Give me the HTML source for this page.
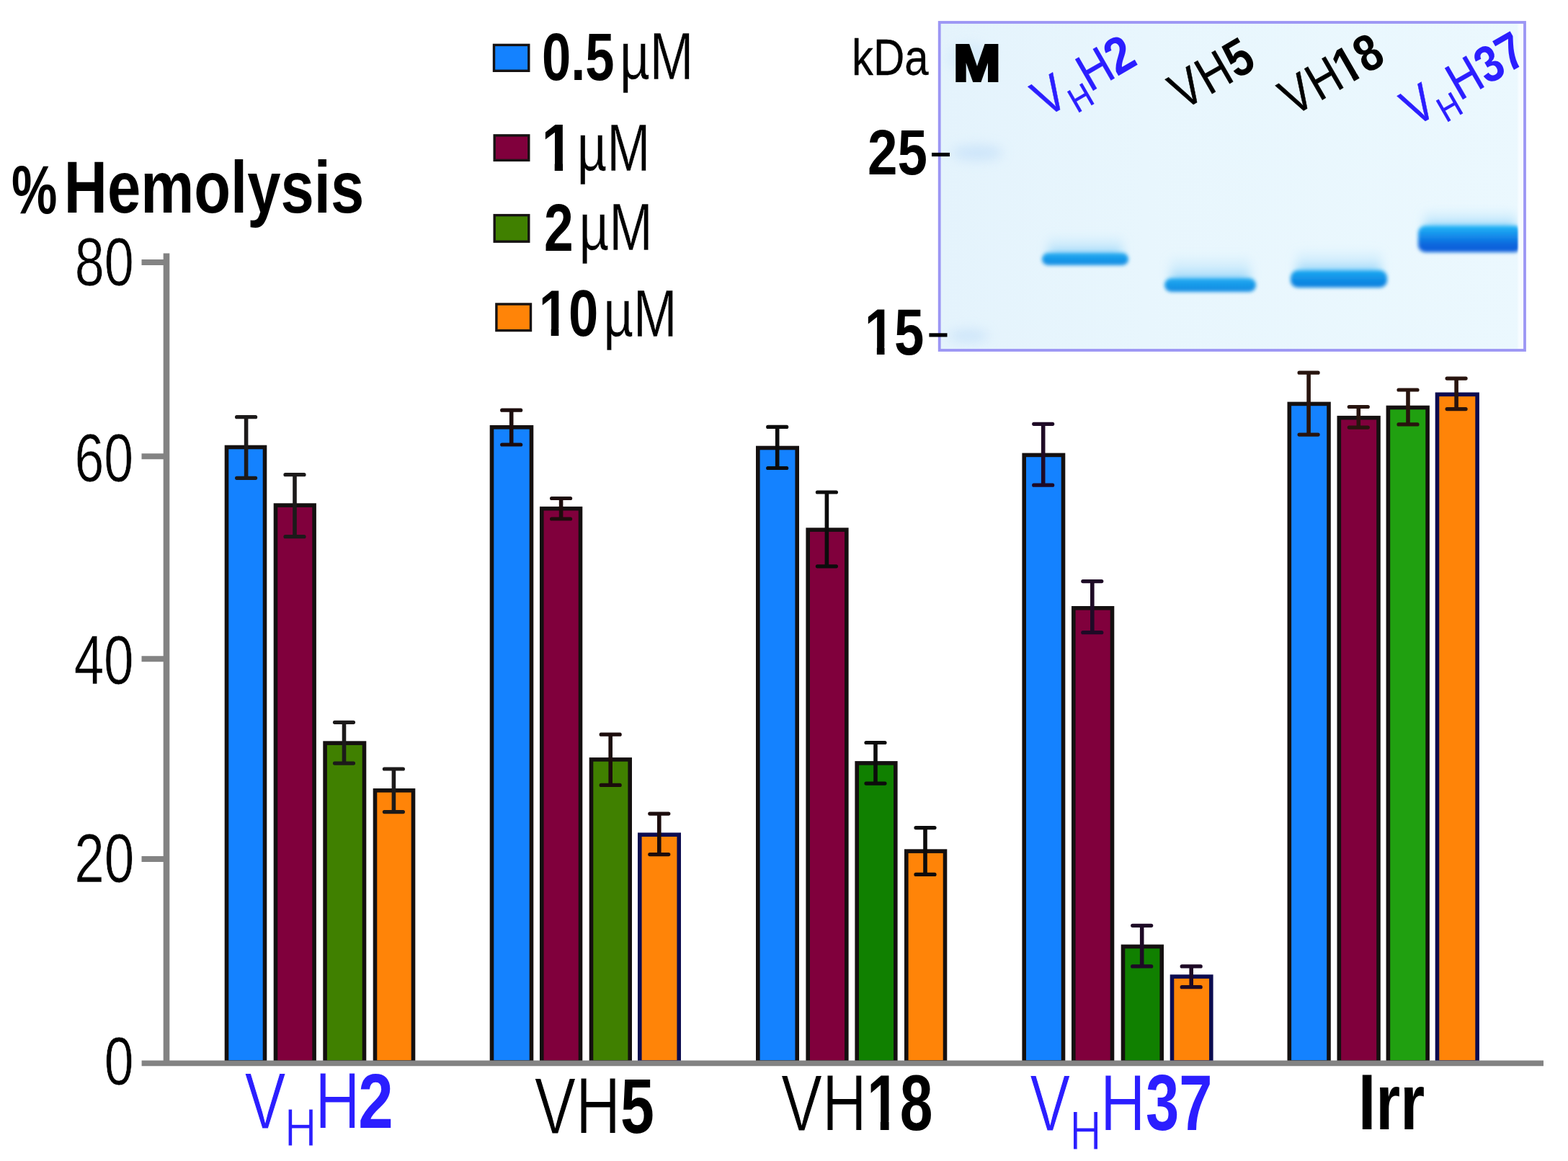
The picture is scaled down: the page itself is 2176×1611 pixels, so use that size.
<!DOCTYPE html>
<html><head><meta charset="utf-8"><title>% Hemolysis</title>
<style>html,body{margin:0;padding:0;background:#fff;overflow:hidden;} svg{display:block;} text{font-family:"Liberation Sans", Arial, Helvetica, sans-serif;}</style>
</head><body>
<svg width="2176" height="1611" viewBox="0 0 2176 1611">
<defs>
<filter id="b2" x="-20%" y="-100%" width="140%" height="300%"><feGaussianBlur stdDeviation="2.6"/></filter>
<filter id="b4" x="-20%" y="-100%" width="140%" height="300%"><feGaussianBlur stdDeviation="4"/></filter>
<filter id="b1" x="-50%" y="-5%" width="200%" height="110%"><feGaussianBlur stdDeviation="1"/></filter>
<filter id="b8" x="-30%" y="-150%" width="160%" height="400%"><feGaussianBlur stdDeviation="8"/></filter>
<filter id="bh" x="-30%" y="-100%" width="160%" height="300%"><feGaussianBlur stdDeviation="7 5"/></filter>
</defs>
<rect width="2176" height="1611" fill="#fff"/>
<g>

<text transform="translate(16.12,296.45) scale(0.7589,1)" font-size="94.03" font-weight="bold" fill="#000">%</text>
<text transform="translate(88.82,295.01) scale(0.8133,1)" font-size="102.36" font-weight="bold" fill="#000">Hemolysis</text>
<line x1="231" y1="351.6" x2="231" y2="1479" stroke="#838383" stroke-width="8.6"/>
<line x1="196.5" y1="364.1" x2="231" y2="364.1" stroke="#838383" stroke-width="8"/>
<line x1="196.5" y1="633.3" x2="231" y2="633.3" stroke="#838383" stroke-width="8"/>
<line x1="196.5" y1="914.3" x2="231" y2="914.3" stroke="#838383" stroke-width="8"/>
<line x1="196.5" y1="1192.1" x2="231" y2="1192.1" stroke="#838383" stroke-width="8"/>
<text transform="translate(103.78,395.50) scale(0.7774,1)" font-size="94.92" font-weight="normal" fill="#000" stroke="#fff" stroke-width="0.7">80</text>
<text transform="translate(103.51,668.10) scale(0.7686,1)" font-size="95.48" font-weight="normal" fill="#000" stroke="#fff" stroke-width="0.7">60</text>
<text transform="translate(102.63,949.39) scale(0.7787,1)" font-size="95.76" font-weight="normal" fill="#000" stroke="#fff" stroke-width="0.7">40</text>
<text transform="translate(103.22,1223.70) scale(0.7822,1)" font-size="95.48" font-weight="normal" fill="#000" stroke="#fff" stroke-width="0.7">20</text>
<text transform="translate(144.79,1504.70) scale(0.7669,1)" font-size="95.48" font-weight="normal" fill="#000" stroke="#fff" stroke-width="0.7">0</text>
<rect x="314.50" y="620.50" width="53.00" height="853.50" fill="#1482ff" stroke="#141010" stroke-width="5.6"/>
<rect x="382.50" y="701.10" width="53.60" height="772.90" fill="#80003c" stroke="#141010" stroke-width="5.6"/>
<rect x="451.10" y="1031.10" width="54.40" height="442.90" fill="#408000" stroke="#141010" stroke-width="5.6"/>
<rect x="520.50" y="1096.80" width="53.00" height="377.20" fill="#ff8408" stroke="#141010" stroke-width="5.6"/>
<path d="M341.60,578.70V663.30" stroke="#1c1a1a" stroke-width="5.6" fill="none"/><path d="M328.60,578.70H354.60M328.60,663.30H354.60" stroke="#1c1a1a" stroke-width="5.2" stroke-linecap="round" fill="none"/>
<path d="M409.00,658.70V744.70" stroke="#1c1a1a" stroke-width="5.6" fill="none"/><path d="M396.00,658.70H422.00M396.00,744.70H422.00" stroke="#1c1a1a" stroke-width="5.2" stroke-linecap="round" fill="none"/>
<path d="M477.50,1002.30V1059.10" stroke="#1c1a1a" stroke-width="5.6" fill="none"/><path d="M464.50,1002.30H490.50M464.50,1059.10H490.50" stroke="#1c1a1a" stroke-width="5.2" stroke-linecap="round" fill="none"/>
<path d="M546.40,1067.00V1126.60" stroke="#1c1a1a" stroke-width="5.6" fill="none"/><path d="M533.40,1067.00H559.40M533.40,1126.60H559.40" stroke="#1c1a1a" stroke-width="5.2" stroke-linecap="round" fill="none"/>
<rect x="682.50" y="592.80" width="55.00" height="881.20" fill="#1482ff" stroke="#141010" stroke-width="5.6"/>
<rect x="751.80" y="705.70" width="53.70" height="768.30" fill="#80003c" stroke="#141010" stroke-width="5.6"/>
<rect x="820.50" y="1053.90" width="53.70" height="420.10" fill="#408000" stroke="#141010" stroke-width="5.6"/>
<rect x="887.80" y="1158.20" width="54.40" height="315.80" fill="#ff8408" stroke="#0c0c50" stroke-width="5.6"/>
<path d="M709.70,569.20V617.00" stroke="#1c0c0c" stroke-width="5.6" fill="none"/><path d="M696.70,569.20H722.70M696.70,617.00H722.70" stroke="#1c0c0c" stroke-width="5.2" stroke-linecap="round" fill="none"/>
<path d="M778.60,691.50V720.00" stroke="#1c0c0c" stroke-width="5.6" fill="none"/><path d="M765.60,691.50H791.60M765.60,720.00H791.60" stroke="#1c0c0c" stroke-width="5.2" stroke-linecap="round" fill="none"/>
<path d="M847.20,1019.20V1089.40" stroke="#1c0c0c" stroke-width="5.6" fill="none"/><path d="M834.20,1019.20H860.20M834.20,1089.40H860.20" stroke="#1c0c0c" stroke-width="5.2" stroke-linecap="round" fill="none"/>
<path d="M914.80,1129.10V1185.60" stroke="#1c0c0c" stroke-width="5.6" fill="none"/><path d="M901.80,1129.10H927.80M901.80,1185.60H927.80" stroke="#1c0c0c" stroke-width="5.2" stroke-linecap="round" fill="none"/>
<rect x="1051.80" y="621.50" width="54.40" height="852.50" fill="#1482ff" stroke="#141010" stroke-width="5.6"/>
<rect x="1121.20" y="735.10" width="53.60" height="738.90" fill="#80003c" stroke="#141010" stroke-width="5.6"/>
<rect x="1189.20" y="1058.90" width="53.60" height="415.10" fill="#108000" stroke="#141010" stroke-width="5.6"/>
<rect x="1257.80" y="1181.10" width="53.70" height="292.90" fill="#ff8408" stroke="#141010" stroke-width="5.6"/>
<path d="M1078.70,592.40V649.50" stroke="#0c0c0c" stroke-width="5.6" fill="none"/><path d="M1065.70,592.40H1091.70M1065.70,649.50H1091.70" stroke="#0c0c0c" stroke-width="5.2" stroke-linecap="round" fill="none"/>
<path d="M1147.40,683.00V785.80" stroke="#0c0c0c" stroke-width="5.6" fill="none"/><path d="M1134.40,683.00H1160.40M1134.40,785.80H1160.40" stroke="#0c0c0c" stroke-width="5.2" stroke-linecap="round" fill="none"/>
<path d="M1215.00,1030.50V1087.10" stroke="#0c0c0c" stroke-width="5.6" fill="none"/><path d="M1202.00,1030.50H1228.00M1202.00,1087.10H1228.00" stroke="#0c0c0c" stroke-width="5.2" stroke-linecap="round" fill="none"/>
<path d="M1284.00,1148.60V1213.40" stroke="#0c0c0c" stroke-width="5.6" fill="none"/><path d="M1271.00,1148.60H1297.00M1271.00,1213.40H1297.00" stroke="#0c0c0c" stroke-width="5.2" stroke-linecap="round" fill="none"/>
<rect x="1421.20" y="631.40" width="54.30" height="842.60" fill="#1482ff" stroke="#141010" stroke-width="5.6"/>
<rect x="1489.80" y="843.80" width="53.70" height="630.20" fill="#80003c" stroke="#141010" stroke-width="5.6"/>
<rect x="1558.50" y="1313.40" width="53.70" height="160.60" fill="#108000" stroke="#141010" stroke-width="5.6"/>
<rect x="1626.50" y="1355.10" width="54.30" height="118.90" fill="#ff8408" stroke="#0c0c50" stroke-width="5.6"/>
<path d="M1447.70,588.30V673.20" stroke="#1e0a26" stroke-width="5.6" fill="none"/><path d="M1434.70,588.30H1460.70M1434.70,673.20H1460.70" stroke="#1e0a26" stroke-width="5.2" stroke-linecap="round" fill="none"/>
<path d="M1515.80,806.60V877.70" stroke="#1e0a26" stroke-width="5.6" fill="none"/><path d="M1502.80,806.60H1528.80M1502.80,877.70H1528.80" stroke="#1e0a26" stroke-width="5.2" stroke-linecap="round" fill="none"/>
<path d="M1584.70,1284.30V1340.90" stroke="#1e0a26" stroke-width="5.6" fill="none"/><path d="M1571.70,1284.30H1597.70M1571.70,1340.90H1597.70" stroke="#1e0a26" stroke-width="5.2" stroke-linecap="round" fill="none"/>
<path d="M1653.20,1340.90V1369.70" stroke="#1e0a26" stroke-width="5.6" fill="none"/><path d="M1640.20,1340.90H1666.20M1640.20,1369.70H1666.20" stroke="#1e0a26" stroke-width="5.2" stroke-linecap="round" fill="none"/>
<rect x="1789.30" y="560.40" width="54.70" height="913.60" fill="#1482ff" stroke="#141010" stroke-width="5.6"/>
<rect x="1858.30" y="579.70" width="54.70" height="894.30" fill="#80003c" stroke="#141010" stroke-width="5.6"/>
<rect x="1926.40" y="565.50" width="54.70" height="908.50" fill="#20a010" stroke="#141010" stroke-width="5.6"/>
<rect x="1994.50" y="547.30" width="55.60" height="926.70" fill="#ff8408" stroke="#0c0c50" stroke-width="5.6"/>
<path d="M1816.10,517.20V603.10" stroke="#28140e" stroke-width="5.6" fill="none"/><path d="M1803.10,517.20H1829.10M1803.10,603.10H1829.10" stroke="#28140e" stroke-width="5.2" stroke-linecap="round" fill="none"/>
<path d="M1885.30,564.50V593.10" stroke="#28140e" stroke-width="5.6" fill="none"/><path d="M1872.30,564.50H1898.30M1872.30,593.10H1898.30" stroke="#28140e" stroke-width="5.2" stroke-linecap="round" fill="none"/>
<path d="M1954.00,541.00V588.90" stroke="#28140e" stroke-width="5.6" fill="none"/><path d="M1941.00,541.00H1967.00M1941.00,588.90H1967.00" stroke="#28140e" stroke-width="5.2" stroke-linecap="round" fill="none"/>
<path d="M2021.10,525.10V567.60" stroke="#28140e" stroke-width="5.6" fill="none"/><path d="M2008.10,525.10H2034.10M2008.10,567.60H2034.10" stroke="#28140e" stroke-width="5.2" stroke-linecap="round" fill="none"/>
<line x1="196.6" y1="1475.3" x2="2142" y2="1475.3" stroke="#838383" stroke-width="7.7"/>
<text transform="translate(339.47,1565.50) scale(0.7737,1)" font-size="110.76" font-weight="normal" fill="#2b1eff" stroke="#fff" stroke-width="1.2">V</text>
<text transform="translate(394.97,1590.30) scale(0.8310,1)" font-size="73.84" font-weight="normal" fill="#2b1eff" stroke="#fff" stroke-width="1.2">H</text>
<text transform="translate(436.97,1565.50) scale(0.7850,1)" font-size="110.76" font-weight="normal" fill="#2b1eff" stroke="#fff" stroke-width="1.2">H</text>
<text transform="translate(497.35,1564.90) scale(0.8107,1)" font-size="107.45" font-weight="bold" fill="#2b1eff">2</text>
<text transform="translate(741.67,1572.70) scale(0.7761,1)" font-size="110.76" font-weight="normal" fill="#000" stroke="#fff" stroke-width="1.2">VH</text>
<text transform="translate(860.89,1572.13) scale(0.7846,1)" font-size="107.45" font-weight="bold" fill="#000">5</text>
<text transform="translate(1083.97,1568.80) scale(0.7726,1)" font-size="110.76" font-weight="normal" fill="#000" stroke="#fff" stroke-width="1.2">VH</text>
<clipPath id="c1f1" clipPathUnits="userSpaceOnUse"><rect x="-108.8" y="-217.5" width="1305.1" height="204.68"/><rect x="25.01" y="-21.75" width="15.55" height="76.13"/><rect x="59.27" y="-217.5" width="1305.1" height="271.9"/></clipPath><text transform="translate(1202.91,1568.11) scale(0.7561,1)" font-size="108.76" font-weight="bold" fill="#000" clip-path="url(#c1f1)">18</text>
<text transform="translate(1429.28,1568.70) scale(0.7497,1)" font-size="112.06" font-weight="normal" fill="#2b1eff" stroke="#fff" stroke-width="1.2">V</text>
<text transform="translate(1484.51,1594.50) scale(0.8032,1)" font-size="75.73" font-weight="normal" fill="#2b1eff" stroke="#fff" stroke-width="1.2">H</text>
<text transform="translate(1526.74,1568.70) scale(0.7790,1)" font-size="112.06" font-weight="normal" fill="#2b1eff" stroke="#fff" stroke-width="1.2">H</text>
<text transform="translate(1589.89,1567.89) scale(0.7569,1)" font-size="109.87" font-weight="bold" fill="#2b1eff">37</text>
<text transform="translate(1885.06,1566.80) scale(0.8007,1)" font-size="108.87" font-weight="bold" fill="#000">Irr</text>
<rect x="685.50" y="62.40" width="48.30" height="35.90" fill="#1482ff" stroke="#161212" stroke-width="3.4"/>
<rect x="686.20" y="187.90" width="47.60" height="34.50" fill="#80003c" stroke="#161212" stroke-width="3.4"/>
<rect x="686.20" y="298.60" width="47.60" height="36.60" fill="#408000" stroke="#161212" stroke-width="3.4"/>
<rect x="688.90" y="422.00" width="47.60" height="36.60" fill="#ff8408" stroke="#161212" stroke-width="3.4"/>
<text transform="translate(751.90,110.77) scale(0.7833,1)" font-size="92.51" font-weight="bold" fill="#000">0.5</text>
<text transform="translate(859.96,110.30) scale(0.7768,1)" font-size="93.46" font-weight="normal" fill="#000" stroke="#fff" stroke-width="0.4">µM</text>
<clipPath id="c1f2" clipPathUnits="userSpaceOnUse"><rect x="-92.2" y="-184.3" width="1105.8" height="173.43"/><rect x="21.19" y="-18.43" width="13.18" height="64.51"/><rect x="50.22" y="-184.3" width="1105.8" height="230.4"/></clipPath><text transform="translate(751.51,236.50) scale(0.8603,1)" font-size="92.15" font-weight="bold" fill="#000" clip-path="url(#c1f2)">1</text>
<text transform="translate(800.70,236.50) scale(0.7793,1)" font-size="92.44" font-weight="normal" fill="#000" stroke="#fff" stroke-width="0.4">µM</text>
<text transform="translate(754.94,347.90) scale(0.7883,1)" font-size="92.84" font-weight="bold" fill="#000">2</text>
<text transform="translate(803.46,347.20) scale(0.7768,1)" font-size="93.46" font-weight="normal" fill="#000" stroke="#fff" stroke-width="0.4">µM</text>
<clipPath id="c1f3" clipPathUnits="userSpaceOnUse"><rect x="-90.5" y="-181.1" width="1086.4" height="170.39"/><rect x="20.82" y="-18.11" width="12.95" height="63.38"/><rect x="49.34" y="-181.1" width="1086.4" height="226.3"/></clipPath><text transform="translate(747.65,466.29) scale(0.8204,1)" font-size="90.54" font-weight="bold" fill="#000" clip-path="url(#c1f3)">10</text>
<text transform="translate(837.16,466.50) scale(0.7853,1)" font-size="92.44" font-weight="normal" fill="#000" stroke="#fff" stroke-width="0.4">µM</text>
<linearGradient id="gelg" x1="0" y1="0" x2="1" y2="0"><stop offset="0" stop-color="#e4f3fc"/><stop offset="0.35" stop-color="#e8f6fd"/><stop offset="1" stop-color="#ebf8fe"/></linearGradient>
<rect x="1303.7" y="31.0" width="812.3" height="455.0" fill="url(#gelg)"/>
<ellipse cx="1356" cy="212" rx="36" ry="11" fill="#c8e2f9" filter="url(#b8)" opacity="0.8"/>
<ellipse cx="1344" cy="466" rx="28" ry="9" fill="#c8e2f9" filter="url(#b8)" opacity="0.8"/>
<ellipse cx="1345" cy="80" rx="30" ry="20" fill="#d2e9fb" filter="url(#b8)" opacity="0.7"/>
<linearGradient id="bg0" x1="0" y1="0" x2="0" y2="1"><stop offset="0" stop-color="#22acf2"/><stop offset="0.75" stop-color="#1290e4"/><stop offset="1" stop-color="#1290e4"/></linearGradient>
<linearGradient id="hg0" x1="0" y1="0" x2="0" y2="1"><stop offset="0" stop-color="#b8e4fb" stop-opacity="0"/><stop offset="0.55" stop-color="#a6dcfa" stop-opacity="0.4"/><stop offset="1" stop-color="#70c4f6" stop-opacity="0.85"/></linearGradient>
<rect x="1454" y="322" width="104" height="34" rx="8" fill="url(#hg0)" filter="url(#bh)"/>
<rect x="1446" y="351" width="120" height="17" rx="8.5" fill="url(#bg0)" filter="url(#b2)"/>
<linearGradient id="bg1" x1="0" y1="0" x2="0" y2="1"><stop offset="0" stop-color="#22acf2"/><stop offset="0.75" stop-color="#1290e4"/><stop offset="1" stop-color="#1290e4"/></linearGradient>
<linearGradient id="hg1" x1="0" y1="0" x2="0" y2="1"><stop offset="0" stop-color="#b8e4fb" stop-opacity="0"/><stop offset="0.55" stop-color="#a6dcfa" stop-opacity="0.4"/><stop offset="1" stop-color="#70c4f6" stop-opacity="0.85"/></linearGradient>
<rect x="1624" y="350" width="111" height="41" rx="8" fill="url(#hg1)" filter="url(#bh)"/>
<rect x="1616" y="386" width="127" height="19" rx="9.5" fill="url(#bg1)" filter="url(#b2)"/>
<linearGradient id="bg2" x1="0" y1="0" x2="0" y2="1"><stop offset="0" stop-color="#1eaaf2"/><stop offset="0.75" stop-color="#0c84e0"/><stop offset="1" stop-color="#0c84e0"/></linearGradient>
<linearGradient id="hg2" x1="0" y1="0" x2="0" y2="1"><stop offset="0" stop-color="#b8e4fb" stop-opacity="0"/><stop offset="0.55" stop-color="#a6dcfa" stop-opacity="0.4"/><stop offset="1" stop-color="#70c4f6" stop-opacity="0.85"/></linearGradient>
<rect x="1799" y="342" width="118" height="38" rx="8" fill="url(#hg2)" filter="url(#bh)"/>
<rect x="1791" y="375" width="134" height="24" rx="10.0" fill="url(#bg2)" filter="url(#b2)"/>
<linearGradient id="bg3" x1="0" y1="0" x2="0" y2="1"><stop offset="0" stop-color="#22b8f8"/><stop offset="0.75" stop-color="#0862dc"/><stop offset="1" stop-color="#0862dc"/></linearGradient>
<linearGradient id="hg3" x1="0" y1="0" x2="0" y2="1"><stop offset="0" stop-color="#b8e4fb" stop-opacity="0"/><stop offset="0.55" stop-color="#a6dcfa" stop-opacity="0.4"/><stop offset="1" stop-color="#70c4f6" stop-opacity="0.85"/></linearGradient>
<rect x="1976" y="286" width="128" height="32" rx="8" fill="url(#hg3)" filter="url(#bh)"/>
<rect x="1968" y="313" width="144" height="37" rx="10.0" fill="url(#bg3)" filter="url(#b2)"/>
<rect x="2106.5" y="31.0" width="9" height="455.0" fill="#f7fcff" filter="url(#b1)"/>
<rect x="1303.7" y="31.0" width="812.3" height="455.0" fill="none" stroke="#9c96f4" stroke-width="3.8"/>
<text transform="translate(1182.03,103.65) scale(0.8566,1)" font-size="70.07" font-weight="normal" fill="#000" stroke="#000" stroke-width="0.3" stroke-linejoin="miter" stroke-miterlimit="2">kDa</text>
<text transform="translate(1323.16,111.50) scale(1.1010,1)" font-size="71.08" font-weight="bold" fill="#000" stroke="#000" stroke-width="4.0" stroke-linejoin="miter" stroke-miterlimit="2">M</text>
<text transform="translate(1204.09,241.80) scale(0.8325,1)" font-size="89.55" font-weight="bold" fill="#000">25</text>
<clipPath id="c1f4" clipPathUnits="userSpaceOnUse"><rect x="-91.3" y="-182.5" width="1095.1" height="171.75"/><rect x="20.99" y="-18.25" width="13.05" height="63.88"/><rect x="49.74" y="-182.5" width="1095.1" height="228.2"/></clipPath><text transform="translate(1199.74,492.09) scale(0.8154,1)" font-size="91.26" font-weight="bold" fill="#000" clip-path="url(#c1f4)">15</text>
<line x1="1293" y1="214.5" x2="1318" y2="214.5" stroke="#000" stroke-width="5.2"/>
<line x1="1289.4" y1="464.9" x2="1314.5" y2="464.9" stroke="#000" stroke-width="5.2"/>
<g transform="translate(1468.50,153.50) rotate(-30)">
<text transform="translate(-20.19,0.00) scale(0.8380,1)" font-size="72.24" font-weight="normal" fill="#2b1eff" stroke="#2b1eff" stroke-width="0.6" stroke-linejoin="miter" stroke-miterlimit="2">V</text>
<text transform="translate(20.65,16.55) scale(0.8876,1)" font-size="47.67" font-weight="normal" fill="#2b1eff" stroke="#2b1eff" stroke-width="0.6" stroke-linejoin="miter" stroke-miterlimit="2">H</text>
<text transform="translate(51.17,0.00) scale(0.8459,1)" font-size="72.24" font-weight="normal" fill="#2b1eff" stroke="#2b1eff" stroke-width="0.6" stroke-linejoin="miter" stroke-miterlimit="2">H</text>
<text transform="translate(94.46,0.00) scale(0.8907,1)" font-size="71.63" font-weight="bold" fill="#2b1eff">2</text>
</g>
<g transform="translate(1658.50,143.50) rotate(-30)">
<text transform="translate(-20.02,0.00) scale(0.8310,1)" font-size="72.24" font-weight="normal" fill="#000" stroke="#000" stroke-width="0.6" stroke-linejoin="miter" stroke-miterlimit="2">V</text>
<text transform="translate(22.19,0.00) scale(0.8350,1)" font-size="72.24" font-weight="normal" fill="#000" stroke="#000" stroke-width="0.6" stroke-linejoin="miter" stroke-miterlimit="2">H</text>
<text transform="translate(66.56,0.00) scale(0.8512,1)" font-size="72.67" font-weight="bold" fill="#000">5</text>
</g>
<g transform="translate(1811.50,152.00) rotate(-30)">
<text transform="translate(-20.02,0.00) scale(0.8310,1)" font-size="72.24" font-weight="normal" fill="#000" stroke="#000" stroke-width="0.6" stroke-linejoin="miter" stroke-miterlimit="2">V</text>
<text transform="translate(22.19,0.00) scale(0.8350,1)" font-size="72.24" font-weight="normal" fill="#000" stroke="#000" stroke-width="0.6" stroke-linejoin="miter" stroke-miterlimit="2">H</text>
<clipPath id="c1f5" clipPathUnits="userSpaceOnUse"><rect x="-71.6" y="-143.3" width="859.6" height="134.81"/><rect x="16.48" y="-14.33" width="10.24" height="50.14"/><rect x="39.04" y="-143.3" width="859.6" height="179.1"/></clipPath><text transform="translate(64.37,0.00) scale(0.8421,1)" font-size="71.63" font-weight="bold" fill="#000" clip-path="url(#c1f5)">18</text>
</g>
<g transform="translate(1980.30,166.50) rotate(-30)">
<text transform="translate(-19.80,0.00) scale(0.8217,1)" font-size="72.24" font-weight="normal" fill="#2b1eff" stroke="#2b1eff" stroke-width="0.6" stroke-linejoin="miter" stroke-miterlimit="2">V</text>
<text transform="translate(20.95,16.80) scale(0.8662,1)" font-size="48.40" font-weight="normal" fill="#2b1eff" stroke="#2b1eff" stroke-width="0.6" stroke-linejoin="miter" stroke-miterlimit="2">H</text>
<text transform="translate(52.51,0.00) scale(0.8432,1)" font-size="72.24" font-weight="normal" fill="#2b1eff" stroke="#2b1eff" stroke-width="0.6" stroke-linejoin="miter" stroke-miterlimit="2">H</text>
<text transform="translate(97.06,0.00) scale(0.8413,1)" font-size="71.63" font-weight="bold" fill="#2b1eff">37</text>
</g>
</g>
</svg>
</body></html>
